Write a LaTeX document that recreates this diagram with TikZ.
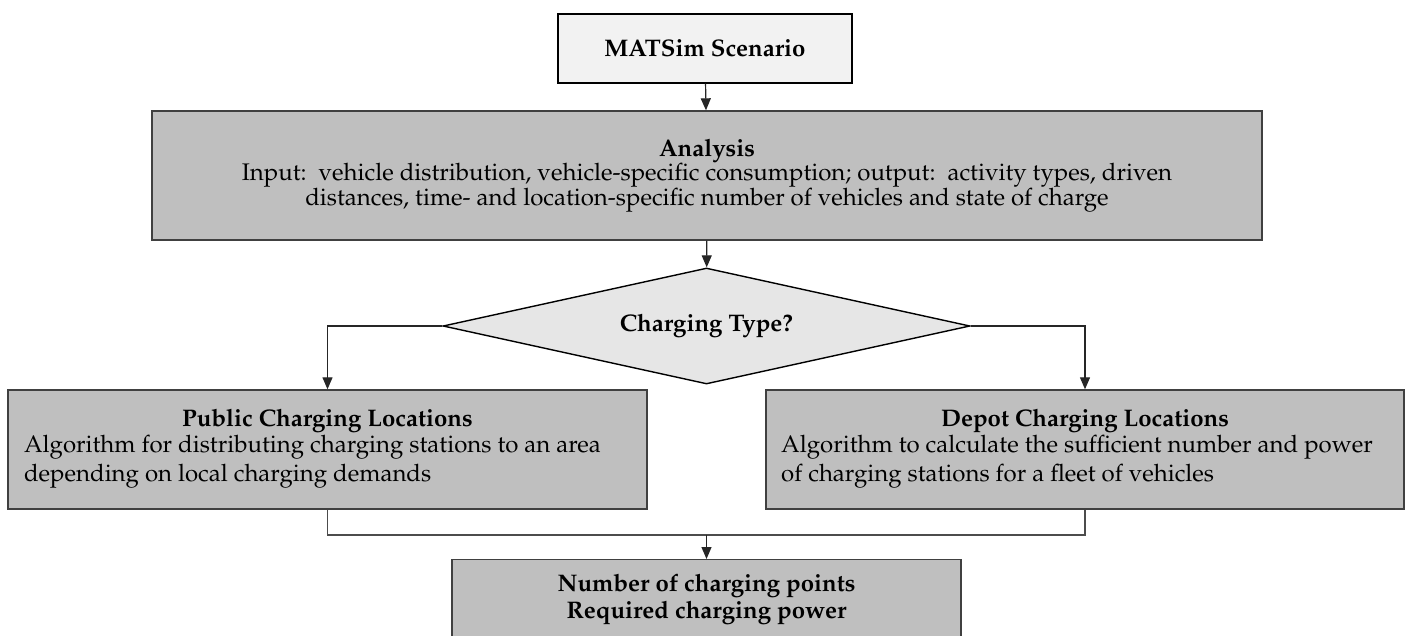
\documentclass[tikz,border=0pt]{standalone}
\usepackage[T1]{fontenc}
\usepackage{mathpazo}
\usepackage{tikz}
\usetikzlibrary{shapes.geometric, arrows.meta, calc}

\definecolor{boxgray}{HTML}{BFBFBF}
\definecolor{lightgray}{HTML}{F2F2F2}
\definecolor{diagray}{HTML}{E6E6E6}
\definecolor{edgegray}{HTML}{404040}

\tikzset{
    stepbox/.style={draw=edgegray, line width=1.4pt, fill=boxgray, align=center, inner sep=0pt},
    startbox/.style={draw=black, line width=1.4pt, fill=lightgray, align=center, inner sep=0pt},
    decision/.style={diamond, draw=black, line width=1.4pt, fill=diagray, aspect=4.5, inner sep=0pt},
    flow/.style={line width=1.2pt, draw=black!85, -{Triangle[width=10pt,length=12pt]}},
    link/.style={line width=1.2pt, draw=black!70}
}

\begin{document}
\begin{tikzpicture}[x=1pt, y=-1pt, font=\fontsize{24}{24.5}\selectfont]
        \useasboundingbox (0,0) rectangle (1408,635);
        \clip (0,0) rectangle (1408,635);

        % Start
        \node[startbox, minimum width=294pt, minimum height=69pt] (scen) at (705,48.5) {\textbf{MATSim Scenario}};

        % Analysis step
        \node[stepbox, minimum width=1110pt, minimum height=129pt] (ana) at (707,175.5)
            {\textbf{Analysis}\\Input:\ \ vehicle distribution, vehicle-specific consumption; output:\ \ activity types, driven\\distances, time- and location-specific number of vehicles and state of charge};

        % Decision
        \node[decision, minimum width=527pt, minimum height=116pt] (type) at (706.5,326) {\textbf{Charging Type?}};

        % Charging locations
        \node[stepbox, minimum width=639pt, minimum height=119pt, font=\fontsize{24}{28.5}\selectfont] (pub) at (327.5,449.5)
            {\textbf{Public Charging Locations}\\[-1pt]
             \begin{tabular}{@{}l@{}}Algorithm for distributing charging stations to an area\\depending\ on local charging demands\end{tabular}\hspace*{30pt}};
        \node[stepbox, minimum width=638pt, minimum height=119pt, font=\fontsize{24}{28.5}\selectfont] (dep) at (1085,449.5)
            {\textbf{Depot Charging Locations}\\[-1pt]
             \begin{tabular}{@{}l@{}}Algorithm to calculate the sufficient number and power\\of charging stations for a fleet of vehicles\end{tabular}\hspace*{16pt}};

        % Result
        \node[stepbox, minimum width=509pt, minimum height=100pt, font=\fontsize{24}{27}\selectfont, anchor=north] (res) at (706.5,559)
            {\textbf{Number of charging points}\\\textbf{Required charging power}\\[0pt]};

        % Connectors
        \draw[flow] (scen) -- (ana);
        \draw[flow] (ana) -- (type);
        \draw[flow] (type.west) -| (pub.north);
        \draw[flow] (type.east) -| (dep.north);

        \coordinate (join) at (706.5,535);
        \draw[link] (pub.south) |- (join) -| (dep.south);
        \draw[flow] (join) -- (res.north);
\end{tikzpicture}
\end{document}
